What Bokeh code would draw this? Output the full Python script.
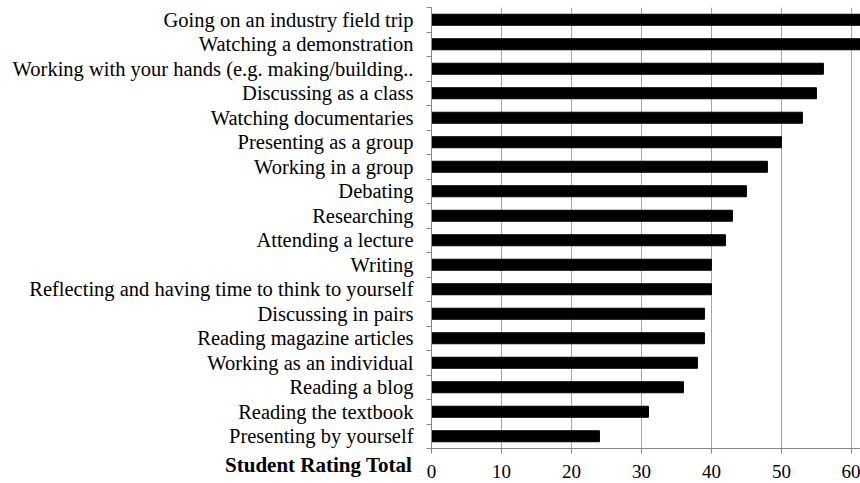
from bokeh.plotting import figure
from bokeh.embed import file_html
from bokeh.resources import INLINE
from bokeh.models import FixedTicker, ColumnDataSource, Range1d

categories = [
    "Going on an industry field trip",
    "Watching a demonstration",
    "Working with your hands (e.g. making/building..",
    "Discussing as a class",
    "Watching documentaries",
    "Presenting as a group",
    "Working in a group",
    "Debating",
    "Researching",
    "Attending a lecture",
    "Writing",
    "Reflecting and having time to think to yourself",
    "Discussing in pairs",
    "Reading magazine articles",
    "Working as an individual",
    "Reading a blog",
    "Reading the textbook",
    "Presenting by yourself",
]
ratings = [63, 62, 56, 55, 53, 50, 48, 45, 43, 42, 40, 40, 39, 39, 38, 36, 31, 24]
x_ticks = [0, 10, 20, 30, 40, 50, 60]
axis_title = "Student Rating Total"

n = len(categories)
ypos = [n - i - 0.5 for i in range(n)]
src = ColumnDataSource(dict(y=ypos, v=ratings, name=categories))

p = figure(width=860, height=483, output_backend="svg", toolbar_location=None,
           x_range=Range1d(0, 61.3), y_range=Range1d(0, n),
           min_border_left=431, min_border_right=0, min_border_top=7, min_border_bottom=35)
p.outline_line_color = None
p.background_fill_color = "white"

p.hbar(y="y", right="v", left=0, height=0.45, source=src, fill_color="black", line_color="black")

FONT = "Liberation Serif"
yax = p.yaxis[0]
yax.ticker = FixedTicker(ticks=ypos, minor_ticks=list(range(n + 1)))
yax.major_label_overrides = {y: c for y, c in zip(ypos, categories)}
yax.major_tick_out = 0
yax.major_tick_in = 0
yax.minor_tick_out = 5
yax.minor_tick_in = 0
yax.minor_tick_line_color = "#868686"
yax.axis_line_color = "#868686"
yax.major_label_text_font = FONT
yax.major_label_text_font_size = "20.5px"
yax.major_label_text_color = "black"
yax.major_label_standoff = 13

xax = p.xaxis[0]
xax.ticker = FixedTicker(ticks=x_ticks)
xax.axis_line_color = "#868686"
xax.major_tick_line_color = "#868686"
xax.major_tick_out = 5
xax.major_tick_in = 0
xax.minor_tick_out = 0
xax.minor_tick_in = 0
xax.major_label_text_font = FONT
xax.major_label_text_font_size = "19px"
xax.major_label_text_color = "black"
xax.major_label_standoff = 11
# title sits left of the "0" tick, on the tick-label row; padded so its centre lands at the axis start
xax.axis_label = axis_title + "\u00a0" * 43
xax.axis_label_text_font = FONT
xax.axis_label_text_font_size = "21px"
xax.axis_label_text_font_style = "bold"
xax.axis_label_text_color = "black"
xax.axis_label_standoff = -28
xax.axis_label_align = "start"

p.ygrid.visible = False
p.xgrid.ticker = FixedTicker(ticks=x_ticks)
p.xgrid.grid_line_color = "#A6A6A6"
p.xgrid.grid_line_width = 1

open("out.html", "w").write(file_html(p, INLINE))
